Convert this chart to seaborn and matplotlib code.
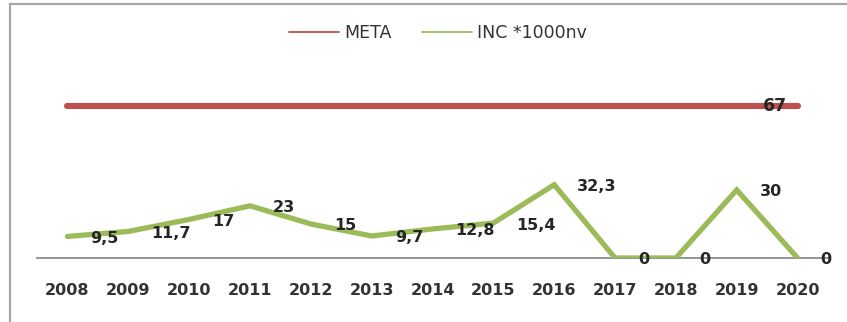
import matplotlib
matplotlib.use("Agg")
import matplotlib.pyplot as plt
from matplotlib.patches import Rectangle
import seaborn as sns
import pandas as pd

years = ["2008", "2009", "2010", "2011", "2012", "2013", "2014",
         "2015", "2016", "2017", "2018", "2019", "2020"]
meta = [67] * 13
inc = [9.5, 11.7, 17, 23, 15, 9.7, 12.8, 15.4, 32.3, 0, 0, 30, 0]
inc_labels = ["9,5", "11,7", "17", "23", "15", "9,7", "12,8", "15,4",
              "32,3", "0", "0", "30", "0"]
series_names = ["META", "INC *1000nv"]

RED = "#c0504d"
GREEN = "#9bbb59"
TEXT = "#262626"

sns.set_theme(style="white")
plt.rcParams["font.family"] = ["DejaVu Sans"]

df = pd.DataFrame({
    "pos": list(range(len(years))) * 2,
    "valor": meta + inc,
    "serie": [series_names[0]] * len(years) + [series_names[1]] * len(years),
})

W, H = 847, 322
fig = plt.figure(figsize=(W / 100, H / 100), dpi=100)
ax_bottom, ax_top = 258, 76.5
ax = fig.add_axes([37 / W, (H - ax_bottom) / H, 791 / W, (ax_bottom - ax_top) / H])

sns.lineplot(data=df, x="pos", y="valor", hue="serie",
             palette={series_names[0]: RED, series_names[1]: GREEN},
             linewidth=4, ax=ax, legend=False, sort=False)
for line, lw in zip(ax.get_lines(), [4.4, 3.8]):
    line.set_linewidth(lw)
    line.set_solid_capstyle("round")
    line.set_solid_joinstyle("miter")

ax.set_xlim(-0.5, len(years) - 0.5)
ax.set_ylim(0, 80)
ax.set_xticks(range(len(years)))
ax.set_xticklabels(years, fontsize=11.5, fontweight="bold", color="#333333")
ax.set_yticks([])
ax.set_xlabel("")
ax.set_ylabel("")
ax.tick_params(axis="x", length=0, pad=18)
for s in ["top", "right", "left"]:
    ax.spines[s].set_visible(False)
ax.spines["bottom"].set_color("#8c8c8c")
ax.spines["bottom"].set_linewidth(1.3)
ax.spines["bottom"].set_zorder(0)

# value labels to the right of each INC point
for i, (v, lab) in enumerate(zip(inc, inc_labels)):
    ax.annotate(lab, (i, v), xytext=(23, -2), textcoords="offset pixels",
                ha="left", va="center", fontsize=11.5, fontweight="bold",
                color=TEXT, zorder=5)

# META label only on the last point
ax.annotate(str(meta[-1]), (len(years) - 1, meta[-1]), xytext=(-11, 0),
            textcoords="offset pixels", ha="right", va="center",
            fontsize=12.5, fontweight="bold", color=TEXT, zorder=5)

handles = [plt.Line2D([], [], color=RED, lw=1.3),
           plt.Line2D([], [], color=GREEN, lw=1.3)]
fig.legend(handles, series_names, loc="center", ncol=2,
           bbox_to_anchor=(438 / W, 1 - 33 / H), frameon=False,
           fontsize=12.5, handlelength=2.9, columnspacing=1.7,
           handletextpad=0.3, labelcolor="#333333")

# chart-area border
fig.patches.append(Rectangle((10 / W, -0.2), 1.2, 1.2 - 4 / H,
                             transform=fig.transFigure, fill=False,
                             edgecolor="#a6a6a6", linewidth=1.6))

fig.savefig("out.png", dpi=100, facecolor="white")
